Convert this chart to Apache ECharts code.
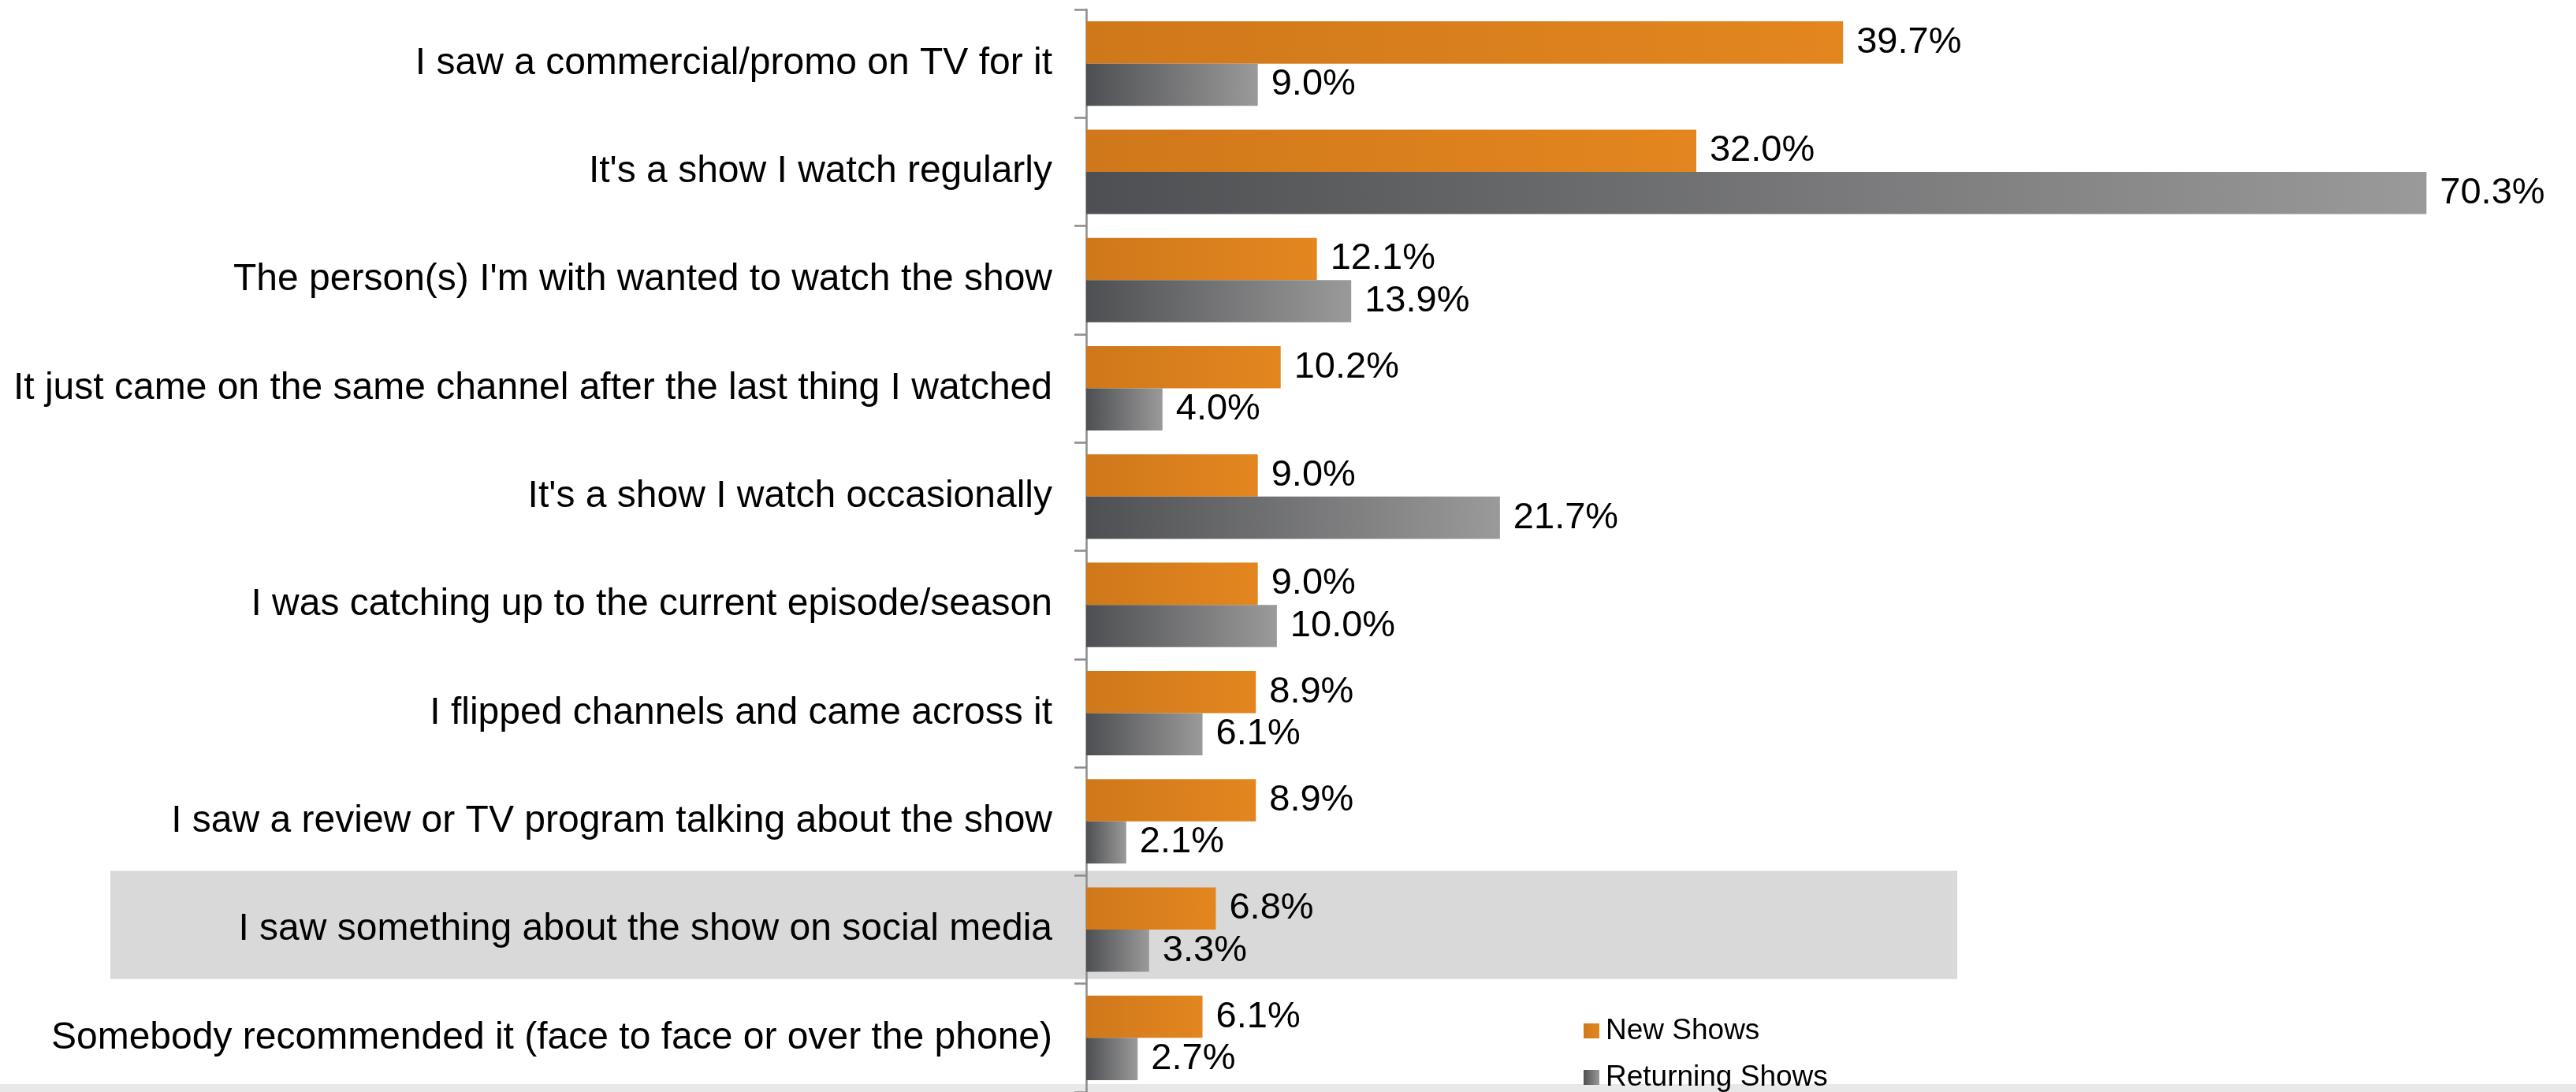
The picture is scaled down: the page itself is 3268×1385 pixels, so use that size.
<!DOCTYPE html>
<html>
<head>
<meta charset="utf-8">
<title>Reasons for watching</title>
<script src="https://cdn.jsdelivr.net/npm/echarts@6/dist/echarts.min.js"></script>
<style>
  html, body { margin: 0; padding: 0; background: #ffffff; }
  #chart { width: 3268px; height: 1385px; }
</style>
</head>
<body>
<div id="chart"></div>
<script>
// Reasons viewers gave for watching, top to bottom
const categories = [
  "I saw a commercial/promo on TV for it",
  "It's a show I watch regularly",
  "The person(s) I'm with wanted to watch the show",
  "It just came on the same channel after the last thing I watched",
  "It's a show I watch occasionally",
  "I was catching up to the current episode/season",
  "I flipped channels and came across it",
  "I saw a review or TV program talking about the show",
  "I saw something about the show on social media",
  "Somebody recommended it (face to face or over the phone)"
];
const newShows = [39.7, 32.0, 12.1, 10.2, 9.0, 9.0, 8.9, 8.9, 6.8, 6.1];
const returningShows = [9.0, 70.3, 13.9, 4.0, 21.7, 10.0, 6.1, 2.1, 3.3, 2.7];
const seriesNames = ["New Shows", "Returning Shows"];
const highlightCategory = "I saw something about the show on social media";

const FONT = "'Liberation Sans', Arial, sans-serif";

const orangeFill = new echarts.graphic.LinearGradient(0, 0, 1, 0, [
  { offset: 0, color: '#cf781b' },
  { offset: 1, color: '#e3861f' }
]);
const greyFill = new echarts.graphic.LinearGradient(0, 0, 1, 0, [
  { offset: 0, color: '#4e4f52' },
  { offset: 1, color: '#9a9a9a' }
]);

const valueLabel = {
  show: true,
  position: 'right',
  distance: 17,
  color: '#000000',
  fontFamily: FONT,
  fontSize: 47,
  formatter: p => p.value.toFixed(1) + '%'
};

// one legend block per series, stacked vertically
function legendBlock(name, top) {
  return {
    left: 2009,
    top: top,
    padding: 0,
    itemWidth: 20,
    itemHeight: 19,
    icon: 'rect',
    textStyle: {
      fontFamily: FONT,
      fontSize: 37,
      color: '#000000',
      padding: [0, 0, 0, 3]
    },
    data: [name]
  };
}

const chart = echarts.init(document.getElementById('chart'), null, { renderer: 'canvas' });

const option = {
  backgroundColor: '#ffffff',
  animation: false,
  grid: { left: 1378, top: 12, width: 1814, height: 1379, containLabel: false },
  xAxis: {
    type: 'value',
    min: 0,
    max: 75,
    show: false
  },
  yAxis: {
    type: 'category',
    data: categories,
    inverse: true,
    axisLine: { show: true, lineStyle: { color: '#8c8c8c', width: 2.5 } },
    axisTick: { show: true, inside: false, length: 15, lineStyle: { color: '#8c8c8c', width: 2.5 } },
    axisLabel: {
      margin: 43,
      color: '#000000',
      fontFamily: FONT,
      fontSize: 48
    },
    splitLine: { show: false }
  },
  legend: [
    legendBlock(seriesNames[0], 1289),
    legendBlock(seriesNames[1], 1348)
  ],
  series: [
    {
      name: seriesNames[0],
      type: 'bar',
      data: newShows,
      barGap: '0%',
      barCategoryGap: '22%',
      itemStyle: { color: orangeFill },
      label: valueLabel,
      z: 3
    },
    {
      name: seriesNames[1],
      type: 'bar',
      data: returningShows,
      barGap: '0%',
      barCategoryGap: '22%',
      itemStyle: { color: greyFill },
      label: valueLabel,
      z: 3
    }
  ]
};

chart.setOption(option);

// Shaded band behind the highlighted reason, plus the light strip along the bottom edge
const idx = categories.indexOf(highlightCategory);
const cy = chart.convertToPixel({ yAxisIndex: 0 }, idx);
const cyNext = chart.convertToPixel({ yAxisIndex: 0 }, idx + 1);
const band = Math.abs(cyNext - cy);
chart.setOption({
  graphic: {
    elements: [
      {
        type: 'rect',
        z: -10,
        silent: true,
        shape: { x: 140, y: cy - band / 2 - 6, width: 2483 - 140, height: band },
        style: { fill: '#d9d9d9' }
      },
      {
        type: 'rect',
        z: -10,
        silent: true,
        shape: { x: 0, y: 1375, width: 3268, height: 10 },
        style: { fill: '#e8e8e8' }
      }
    ]
  }
});
</script>
</body>
</html>
